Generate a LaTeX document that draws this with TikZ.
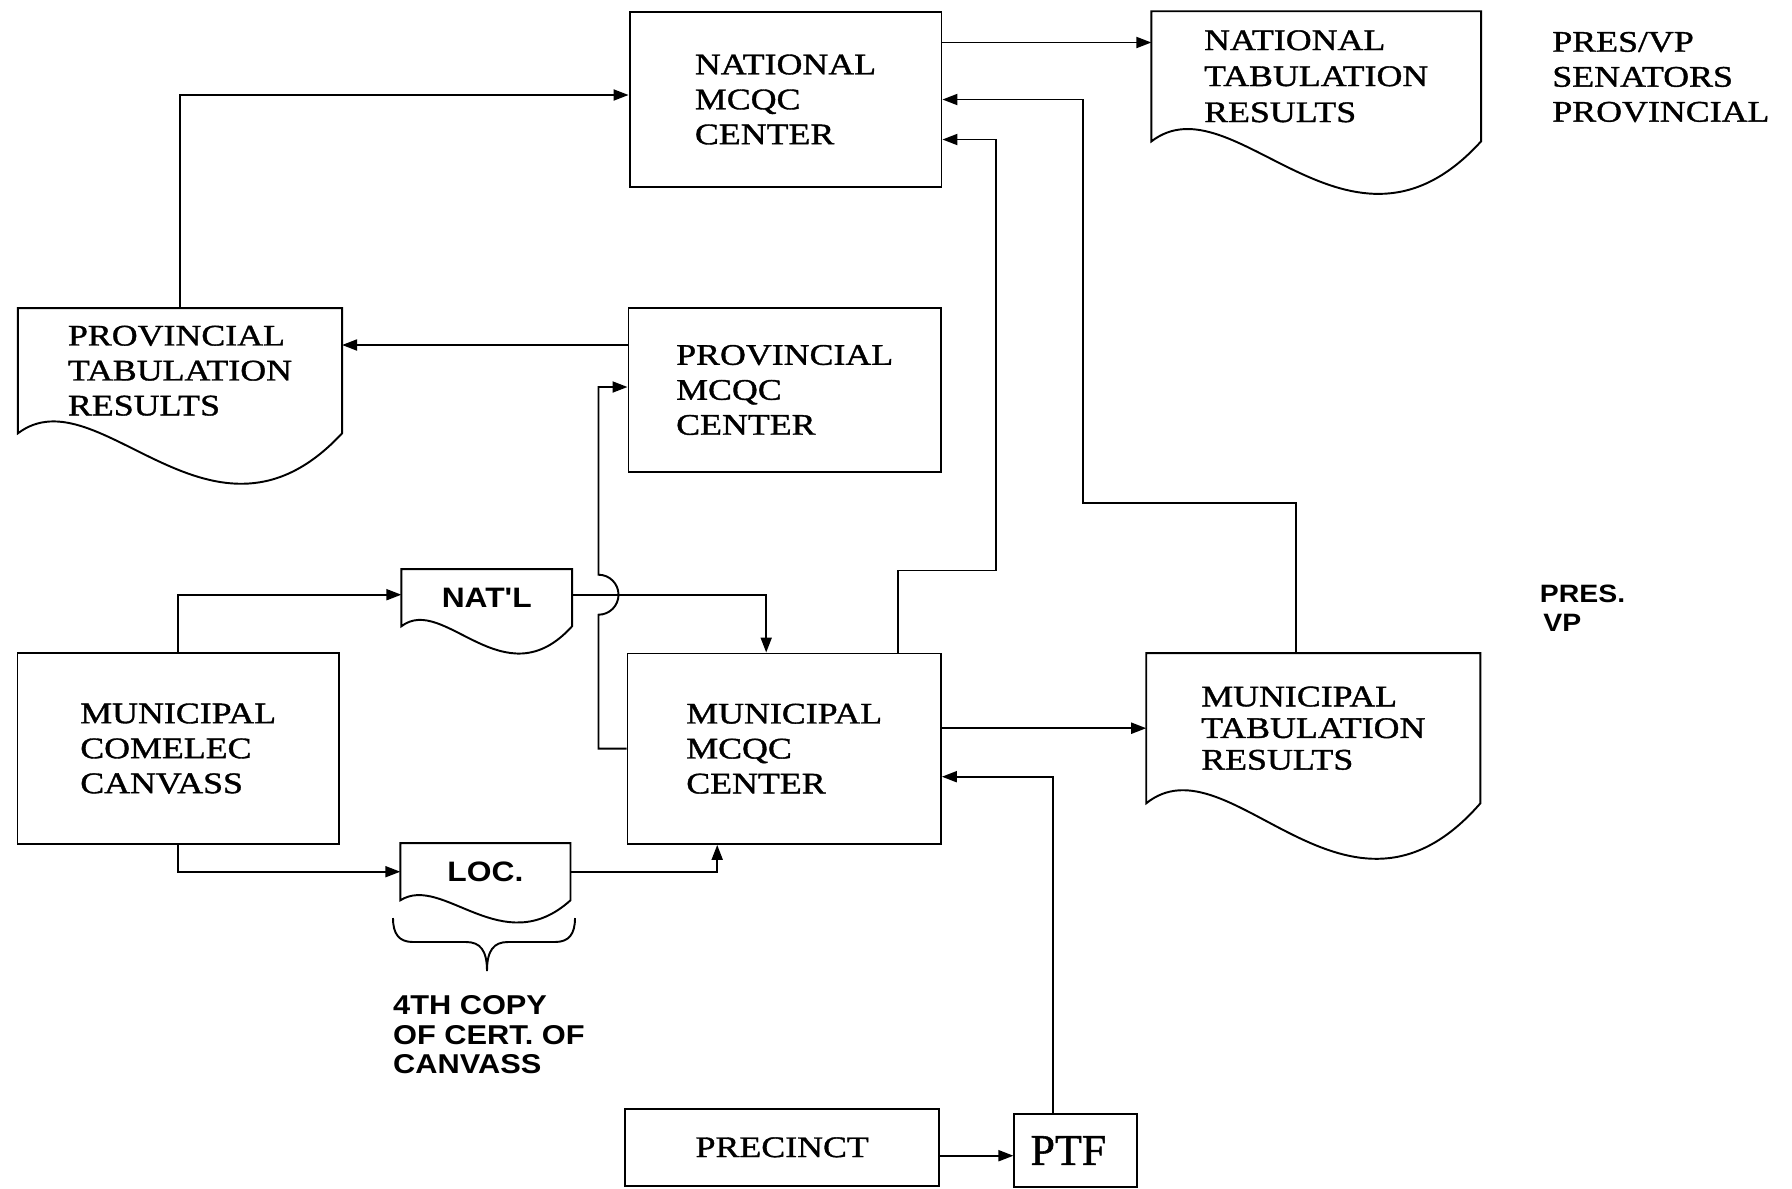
\documentclass[tikz,border=0pt]{standalone}
\usepackage{fontspec}
\setmainfont{Liberation Serif}[FakeStretch=1.2,FakeBold=1.2]
\newfontfamily\sansfnt{Liberation Sans Bold}[FakeStretch=1.13]
\newfontfamily\ptffnt{Liberation Serif}[FakeBold=1.2]
\usetikzlibrary{arrows.meta,calc}
\newcommand\boxfont{\fontsize{17}{19.9}\selectfont}
\newcommand\docoutline[2]{%
  \draw[ln] (#1.south east) -- (#1.north east) -- (#1.north west) -- (#1.south west)
    .. controls ($(#1.south west)!0.25!(#1.south east)+(0,-1.22*#2)$) and ($(#1.south west)!0.6!(#1.south east)+(0,2.79*#2)$) .. (#1.south east) -- cycle;}
\begin{document}
\begin{tikzpicture}[x=0.02cm,y=-0.02cm,
  ln/.style={line width=1.1pt, line join=miter},
  procbox/.style={draw, line width=1.1pt, rectangle, inner sep=0pt, align=left, font=\boxfont},
  docnode/.style={rectangle, inner sep=0pt, align=left, font=\boxfont},
  arr/.style={line width=1.1pt, -{Triangle[length=0.3cm,width=0.22cm]}},
  sanstxt/.style={align=left, inner sep=0pt, font=\sansfnt\fontsize{15.5}{16.8}\selectfont},
  plaintxt/.style={align=left, inner sep=0pt, font=\boxfont}]
\useasboundingbox (0,0) rectangle (1792,1188);

% boxes
\node[procbox, minimum width=6.24cm, minimum height=3.51cm] (natmc) at (785.5,99.5) {NATIONAL\\MCQC\\CENTER};
\node[procbox, minimum width=6.25cm, minimum height=3.27cm] (provmc) at (784.7,390) {PROVINCIAL\\MCQC\\CENTER};
\node[procbox, minimum width=6.27cm, minimum height=3.81cm] (munimc) at (784.2,748.7) {MUNICIPAL\\MCQC\\CENTER};
\node[procbox, minimum width=6.43cm, minimum height=3.82cm] (canv) at (178.2,748.5) {MUNICIPAL\\COMELEC\\CANVASS};
\node[procbox, minimum width=6.29cm, minimum height=1.55cm] (prec) at (782.2,1147.3) {PRECINCT};
\node[procbox, minimum width=2.46cm, minimum height=1.46cm, font=\ptffnt\fontsize{25}{26}\selectfont] (ptf) at (1075.9,1150.5) {PTF\hspace{0.3cm}};

% documents
\node[docnode, minimum width=6.58cm, minimum height=2.59cm, font=\fontsize{17}{20.5}\selectfont] (ntab) at (1316.2,76.3) {NATIONAL\\TABULATION\\RESULTS};
\docoutline{ntab}{52}
\node[docnode, minimum width=6.47cm, minimum height=2.49cm] (ptab) at (180,370.7) {PROVINCIAL\\TABULATION\\RESULTS};
\docoutline{ptab}{50}
\node[docnode, minimum width=6.67cm, minimum height=2.99cm, font=\fontsize{17}{18}\selectfont] (mtab) at (1313.3,728.2) {MUNICIPAL\\TABULATION\\RESULTS};
\docoutline{mtab}{55}
\node[docnode, minimum width=3.4cm, minimum height=1.13cm, font=\sansfnt\fontsize{16}{17}\selectfont] (natl) at (486.7,597.7) {NAT'L};
\docoutline{natl}{27}
\node[docnode, minimum width=3.39cm, minimum height=1.13cm, font=\sansfnt\fontsize{16}{17}\selectfont] (loc) at (485.4,871.7) {LOC.};
\docoutline{loc}{22}

% side texts
\node[plaintxt, anchor=west] (presvp) at (1552,77) {PRES/VP\\SENATORS\\PROVINCIAL};
\node[sanstxt, anchor=west, font=\sansfnt\fontsize{14.3}{16.3}\selectfont] (presvp2) at (1539.6,608.5) {PRES.\\\hspace{2pt}VP};
\node[sanstxt, anchor=west] (note) at (392.8,1035) {4TH COPY\\OF CERT. OF\\CANVASS};

% brace
\draw[ln] (393,918) .. controls (393,934) and (399,942) .. (413,942) -- (466,942)
  .. controls (480,942) and (487,950) .. (487,971)
  .. controls (487,950) and (494,942) .. (508,942) -- (555,942)
  .. controls (569,942) and (575,934) .. (575,918);

% connectors
\draw[arr] ($(natmc.east)+(0,-57)$) coordinate (a0) -- (a0 -| ntab.west);
\draw[arr] ($(munimc.north)+(114,0)$) -- ++(0,-82) -- ++(98,0) |- ($(natmc.east)+(0,40)$);
\draw[arr] ($(mtab.north)+(-17,0)$) -- ++(0,-150) -- ++(-213,0) |- (natmc.east);
\draw[arr] (ptab.north) |- ($(natmc.west)+(0,-4.5)$);
\draw[arr] ($(provmc.west)+(0,-45)$) coordinate (l0) -- (l0 -| ptab.east);
\coordinate (natlout) at ($(natl.east)+(0,-3)$);
\draw[arr] (canv.north) |- ($(natl.west)+(0,-3)$);
\draw[arr] (canv.south) |- (loc.west);
\draw[arr] (natlout) -| ($(munimc.north)+(-18,0)$);
\draw[arr] (loc.east) -| ($(munimc.south)+(-67,0)$);
\draw[arr] (munimc.west) -- ++(-28,0) coordinate (h1)
  -- ($(h1 |- natlout)+(0,20)$) arc[start angle=-90, end angle=90, radius=0.4cm]
  -- ($(h1 |- provmc.west)+(0,-3)$) -- ($(provmc.west)+(0,-3)$);
\draw[arr] (munimc.east |- mtab.west) -- (mtab.west);
\draw[arr] ($(ptf.north)+(-23,0)$) |- ($(munimc.east)+(0,28)$);
\draw[arr] ($(prec.east)+(0,8.4)$) coordinate (k0) -- (k0 -| ptf.west);
\end{tikzpicture}
\end{document}
